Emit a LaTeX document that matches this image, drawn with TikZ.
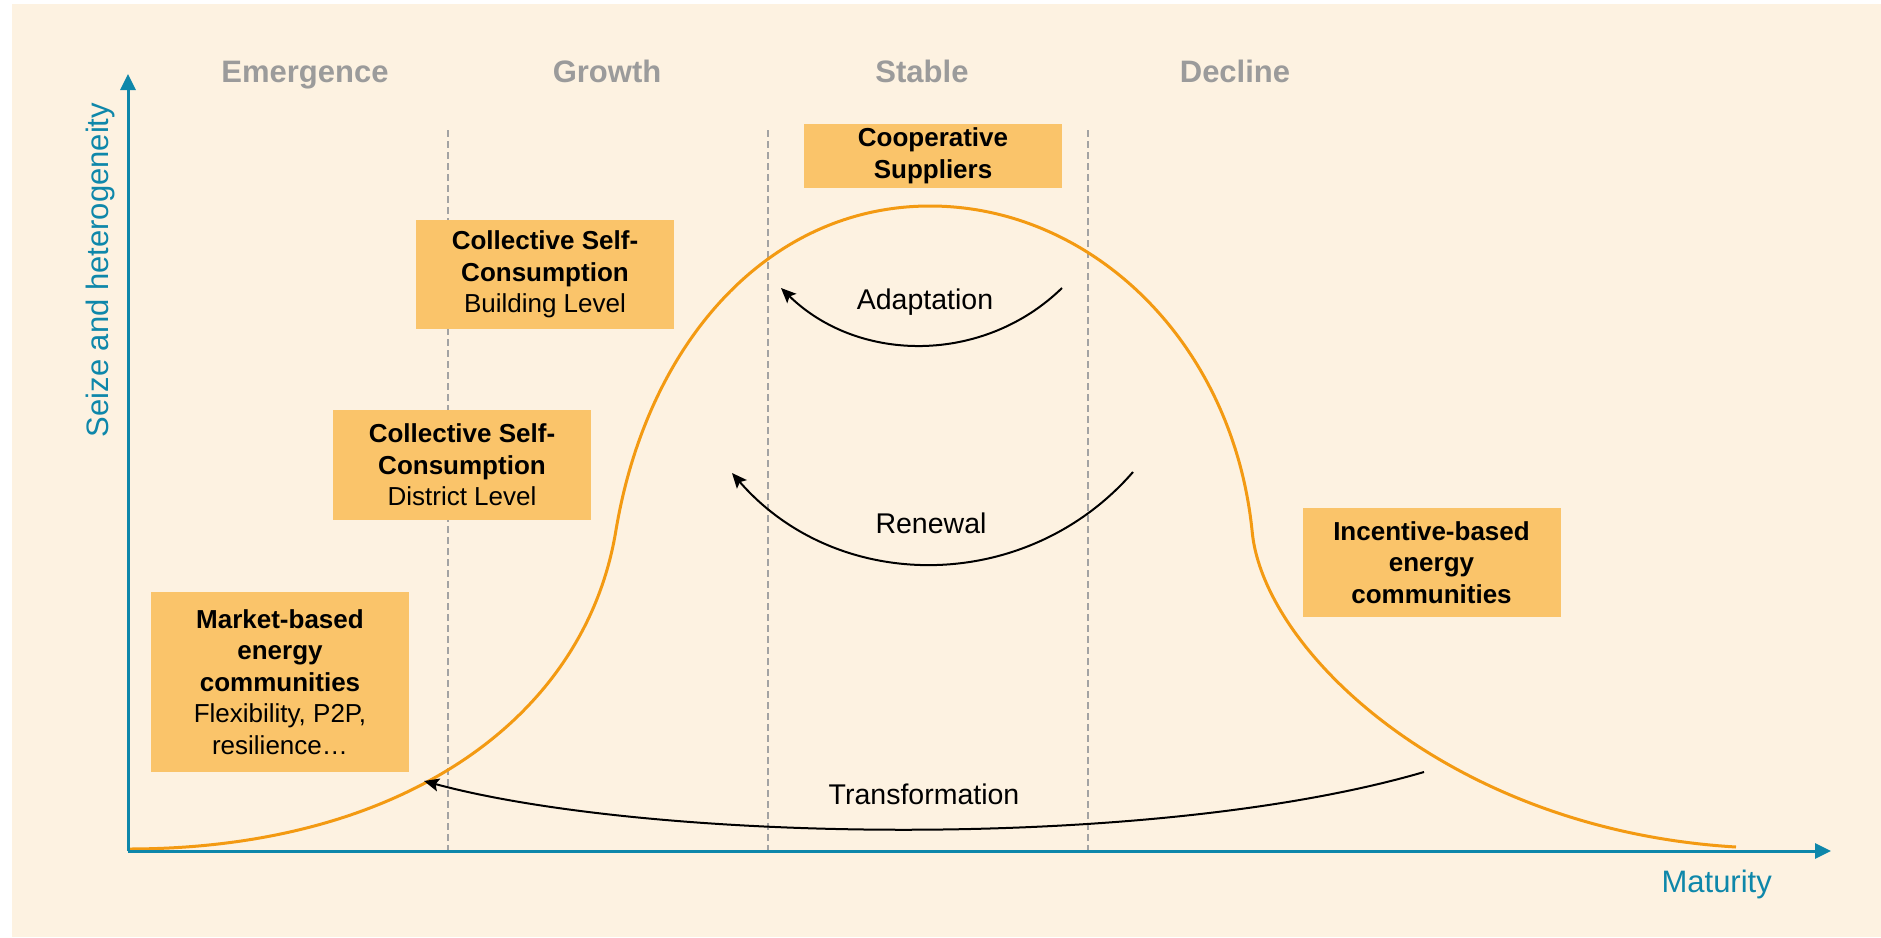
\documentclass[tikz,border=0pt]{standalone}
\usepackage{fontspec}
\setmainfont{Liberation Sans}
\usetikzlibrary{arrows.meta}
\definecolor{bgc}{HTML}{FDF2E1}
\definecolor{boxc}{HTML}{FAC46A}
\definecolor{curvec}{HTML}{F39A12}
\definecolor{axisc}{HTML}{0E87AA}
\definecolor{phasec}{HTML}{9B9B9B}
\definecolor{dashc}{HTML}{A3A3A3}
\begin{document}
\begin{tikzpicture}[x=1pt,y=-1pt,
  phase/.style={text=phasec,font=\fontsize{31}{37}\selectfont\bfseries,anchor=base,inner sep=0},
  ebox/.style={fill=boxc,draw=none,inner sep=0,minimum width=258pt,align=center,text=black,font=\fontsize{26}{31.5}\selectfont},
  axislab/.style={text=axisc,font=\fontsize{31}{37}\selectfont,inner sep=0},
  axisline/.style={draw=axisc,line width=3pt,-{Triangle[length=16pt,width=15pt]}},
  divider/.style={draw=dashc,line width=1.2pt,dash pattern=on 7pt off 4pt},
  lifecurve/.style={draw=curvec,line width=3pt},
  cyclearrow/.style={draw=black,line width=2pt,-{Stealth[length=15pt,width=13pt,inset=3pt]}},
  cyclelab/.style={font=\fontsize{28.5}{34}\selectfont,inner sep=0,text=black}]
\useasboundingbox (0,0) rectangle (1881,937);
\fill[white] (0,0) rectangle (1881,937);
\fill[bgc] (12,4) rectangle (1881,937);

% phase labels
\node[phase] (emergence) at (305,82) {Emergence};
\node[phase] (growth) at (607,82) {Growth};
\node[phase] (stable) at (922,82) {Stable};
\node[phase] (decline) at (1235,82) {Decline};

% dividers
\coordinate (d1t) at (448,130); \coordinate (d1b) at (448,851);
\coordinate (d2t) at (768,130); \coordinate (d2b) at (768,851);
\coordinate (d3t) at (1088,130); \coordinate (d3b) at (1088,851);
\draw[divider] (d1t) -- (d1b);
\draw[divider] (d2t) -- (d2b);
\draw[divider] (d3t) -- (d3b);

% boxes
\node[ebox,minimum height=64pt] (coop) at (933,156) {\textbf{Cooperative}\\\textbf{Suppliers}};
\node[ebox,minimum height=109pt] (cscb) at (545,274.5) {\textbf{Collective Self-}\\\textbf{Consumption}\\Building Level};
\node[ebox,minimum height=110pt] (cscd) at (462,465) {\textbf{Collective Self-}\\\textbf{Consumption}\\District Level};
\node[ebox,minimum height=180pt] (market) at (280,682) {\textbf{Market-based}\\\textbf{energy}\\\textbf{communities}\\Flexibility, P2P,\\resilience…};
\node[ebox,minimum height=109pt] (incent) at (1431.5,562.5) {\textbf{Incentive-based}\\\textbf{energy}\\\textbf{communities}};

% life-cycle curve
\draw[lifecurve] (128,849) .. controls (400,849) and (585,720) .. (616,530)
  .. controls (648,340) and (770,206) .. (930,206)
  .. controls (1090,206) and (1232,340) .. (1252,530)
  .. controls (1262,650) and (1450,830) .. (1736,847);

% axes
\coordinate (origin) at (128,851);
\coordinate (ytip) at (128,74);
\coordinate (xtip) at (1831,851);
\draw[axisline] (origin) -- (ytip);
\draw[axisline] (origin) -- (xtip);
\node[axislab,rotate=90] (ylab) at (100,270) {Seize and heterogeneity};
\node[axislab,anchor=base east] (xlab) at (1772,892) {Maturity};

% cycle arrows
\coordinate (aS) at (1062,288); \coordinate (aE) at (781,288);
\coordinate (rS) at (1133,472); \coordinate (rE) at (732,473);
\coordinate (tS) at (1424,772); \coordinate (tE) at (424,781);
\draw[cyclearrow] (aS) .. controls (984,364) and (859,364) .. (aE);
\draw[cyclearrow] (rS) .. controls (1027,594) and (838,595) .. (rE);
\draw[cyclearrow] (tS) .. controls (1150,852) and (650,842) .. (tE);
\node[cyclelab] (adapt) at (925,302) {Adaptation};
\node[cyclelab] (renew) at (931,523) {Renewal};
\node[cyclelab] (transf) at (924,794) {Transformation};
\end{tikzpicture}
\end{document}
